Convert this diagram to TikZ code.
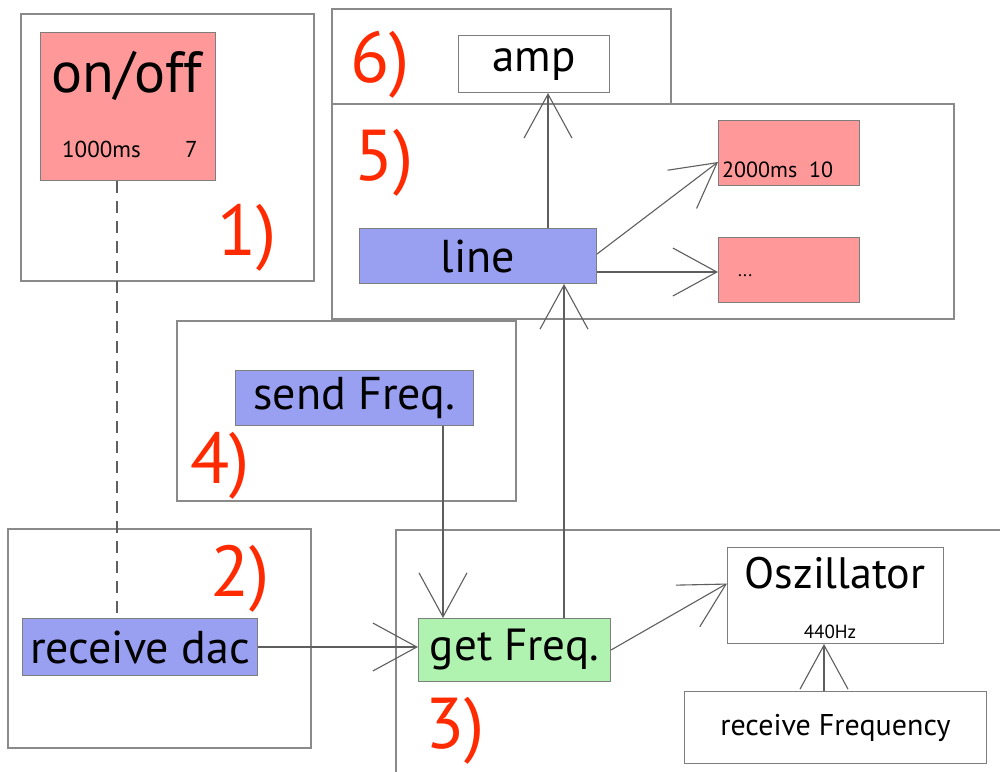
\documentclass[tikz,border=0pt]{standalone}
\usepackage{fontspec}
\setmainfont{PT Sans}
\usetikzlibrary{arrows.meta}
\definecolor{pinkfill}{HTML}{FF9999}
\definecolor{bluefill}{HTML}{99A0F2}
\definecolor{greenfill}{HTML}{B0F2B0}
\definecolor{framegray}{HTML}{8A8A8A}
\definecolor{linegray}{HTML}{5E5E5E}
\definecolor{numred}{HTML}{FF2A00}
\newcommand{\fs}[1]{\fontsize{#1}{#1}\selectfont}
\begin{document}
\begin{tikzpicture}[x=1pt,y=-1pt,
  frame/.style={draw=framegray, line width=1.5pt, fill=none, inner sep=0pt, anchor=north west},
  box/.style={draw=linegray!80, line width=1pt, inner sep=0pt, anchor=north west},
  pinkbox/.style={box, fill=pinkfill},
  bluebox/.style={box, fill=bluefill},
  greenbox/.style={box, fill=greenfill},
  whitebox/.style={box, fill=white},
  num/.style={text=numred, font=\fs{72}, inner sep=0pt, anchor=base west},
  lbl/.style={inner sep=0pt},
  arr/.style={draw=linegray, line width=1.1pt, -{Straight Barb[length=44pt,width=48pt,line width=1.1pt]}},
  dashline/.style={draw=linegray, line width=1.1pt, dash pattern=on 12pt off 8pt}
]
\useasboundingbox (0,0) rectangle (1000,771);
\clip (0,0) rectangle (1000,771);
\fill[white] (0,0) rectangle (1000,771);

% frames
\node[frame, minimum width=293pt, minimum height=267pt] (f1) at (20,13) {};
\node[frame, minimum width=339pt, minimum height=95pt] (f6) at (331,8) {};
\node[frame, minimum width=622pt, minimum height=215pt] (f5) at (331,103) {};
\node[frame, minimum width=339pt, minimum height=180pt] (f4) at (176,320) {};
\node[frame, minimum width=303pt, minimum height=219pt] (f2) at (7,528) {};
\node[frame, minimum width=640pt, minimum height=260pt] (f3) at (395,529) {};

% section numbers
\node[num] (n1) at (217,255) {1)};
\node[num] (n2) at (210,596) {2)};
\node[num] (n3) at (425,748) {3)};
\node[num] (n4) at (190,483) {4)};
\node[num] (n5) at (354,180) {5)};
\node[num] (n6) at (350,82) {6)};

% boxes
\node[pinkbox, minimum width=175pt, minimum height=148pt] (onoff) at (40,32) {};
\node[lbl, font=\fs{58}, anchor=base] (tonoff) at (127,92) {on/off};
\node[lbl, font=\fs{23}, anchor=base west] (tms) at (62,157) {1000ms};
\node[lbl, font=\fs{23}, anchor=base west] (tseven) at (185,157) {7};

\node[whitebox, minimum width=151pt, minimum height=57pt, font=\fs{45}] (amp) at (458,35) {amp};
\node[bluebox, minimum width=237pt, minimum height=55pt, font=\fs{46}] (line) at (359,228) {line};
\node[pinkbox, minimum width=141pt, minimum height=65pt] (pinka) at (718,120) {};
\node[lbl, font=\fs{22}, anchor=base west] (tpinka) at (722,177) {2000ms\ \ 10};
\node[pinkbox, minimum width=141pt, minimum height=65pt] (pinkb) at (718,237) {};
\node[lbl, font=\fs{18}, anchor=base west] (tpinkb) at (738,276) {...};

\node[bluebox, minimum width=238pt, minimum height=55pt, font=\fs{46}] (send) at (235,370) {send Freq.};
\node[bluebox, minimum width=235pt, minimum height=57pt, font=\fs{46}] (rdac) at (22,618) {receive dac};
\node[greenbox, minimum width=192pt, minimum height=63pt, font=\fs{45}] (getf) at (418,618) {get Freq.};
\node[whitebox, minimum width=216pt, minimum height=96pt] (osc) at (727,547) {};
\node[lbl, font=\fs{44}, anchor=base] (tosc) at (835,588) {Oszillator};
\node[lbl, font=\fs{19}, anchor=base] (thz) at (830,638) {440Hz};
\node[whitebox, minimum width=302pt, minimum height=72pt, font=\fs{30}] (recvf) at (684,691) {receive Frequency};

% connectors
\draw[dashline] ([xshift=77pt]onoff.south west) -- ([xshift=95pt]rdac.north west);
\draw[arr] ([xshift=189pt]line.north west) -- ([xshift=90pt]amp.south west);
\draw[arr] ([yshift=2pt]line.east) -- ([yshift=-9pt]pinka.west);
\draw[arr] ([yshift=-16pt]line.east) -- ([yshift=-2pt]pinkb.west);
\draw[arr] ([xshift=146pt]getf.north west) -- ([xshift=205pt]line.south west);
\draw[arr] ([xshift=208pt]send.south west) -- ([xshift=25pt]getf.north west);
\draw[arr] (rdac.east) -- (getf.west |- rdac.east);
\draw[arr] (getf.east) -- ([yshift=12pt]osc.west);
\draw[arr] ([xshift=140pt]recvf.north west) -- ([xshift=97pt]osc.south west);
\end{tikzpicture}
\end{document}
